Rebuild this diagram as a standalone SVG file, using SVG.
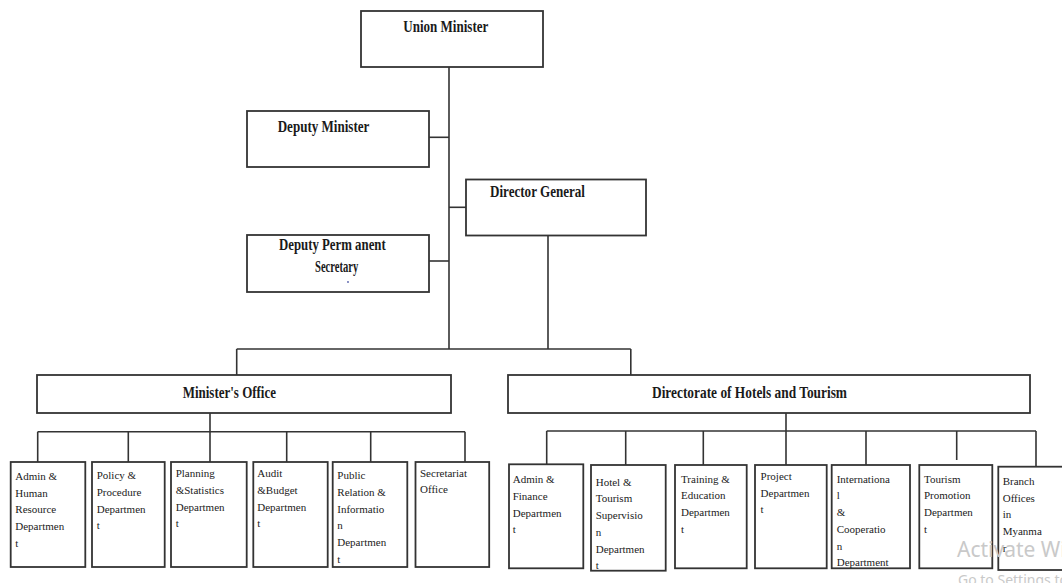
<svg xmlns="http://www.w3.org/2000/svg" width="1062" height="583" viewBox="0 0 1062 583">
  <style>
    .box { fill: #ffffff; stroke: #333333; stroke-width: 1.8; }
    .ln { fill: none; stroke: #333333; stroke-width: 1.6; }
    .ttl { font-family: "Liberation Serif", "Times New Roman", serif; font-weight: bold; font-size: 12.5px; fill: #1a1a1a; }
    .lbl { font-family: "Liberation Serif", "Times New Roman", serif; font-size: 11px; fill: #222222; }
    .wm1 { font-family: "Noto Sans", "Open Sans", sans-serif; font-size: 21px; fill: #c9c9c9; }
    .wm2 { font-family: "Noto Sans", "Open Sans", sans-serif; font-size: 14px; fill: #c9c9c9; }
  </style>
  <rect width="1062" height="583" fill="#ffffff"/>

  <!-- connectors -->
  <g id="connectors" class="ln">
    <path d="M449,67 V349"/>
    <path d="M429,137.3 H449"/>
    <path d="M449,207.3 H466"/>
    <path d="M429,261 H449"/>
    <path d="M548,235.5 V349"/>
    <path d="M236.7,349 H630.8"/>
    <path d="M236.7,349 V375"/>
    <path d="M630.8,349 V375"/>
    <!-- Minister's Office branches -->
    <path d="M210,413 V462"/>
    <path d="M37.7,431.7 H465"/>
    <path d="M37.7,431.7 V462"/>
    <path d="M128.3,431.7 V462"/>
    <path d="M286.7,431.7 V462"/>
    <path d="M370.7,431.7 V462"/>
    <path d="M465,431.7 V462"/>
    <!-- Directorate branches -->
    <path d="M786,413 V465"/>
    <path d="M546.7,431 H1036"/>
    <path d="M546.7,431 V464.3"/>
    <path d="M625.7,431 V465"/>
    <path d="M703.3,431 V465"/>
    <path d="M866,431 V465"/>
    <path d="M956.7,431 V460"/>
    <path d="M1036,431 V466.7"/>
  </g>

  <!-- upper hierarchy -->
  <g id="union-minister">
    <rect class="box" x="361" y="11" width="182" height="56"/>
    <text class="ttl" transform="translate(403.3,31.7) scale(1,1.4)" textLength="85" lengthAdjust="spacingAndGlyphs">Union  Minister</text>
  </g>
  <g id="deputy-minister">
    <rect class="box" x="247" y="111" width="182" height="56"/>
    <text class="ttl" transform="translate(277.7,131.7) scale(1,1.4)" textLength="91.6" lengthAdjust="spacingAndGlyphs">Deputy  Minister</text>
  </g>
  <g id="director-general">
    <rect class="box" x="466" y="179.5" width="180" height="56"/>
    <text class="ttl" transform="translate(490,196.7) scale(1,1.4)" textLength="95" lengthAdjust="spacingAndGlyphs">Director  General</text>
  </g>
  <g id="deputy-permanent-secretary">
    <rect class="box" x="247" y="235" width="182" height="57"/>
    <text class="ttl" transform="translate(279,250) scale(1,1.4)" textLength="106.7" lengthAdjust="spacingAndGlyphs">Deputy  Perm anent</text>
    <text class="ttl" transform="translate(315,271.7) scale(1,1.4)" textLength="43.3" lengthAdjust="spacingAndGlyphs">Secretary</text>
    <circle cx="348" cy="282" r="0.9" fill="#5560aa"/>
  </g>

  <!-- second level -->
  <g id="ministers-office">
    <rect class="box" x="37" y="375" width="414" height="38"/>
    <text class="ttl" transform="translate(182.7,398.3) scale(1,1.4)" textLength="93.3" lengthAdjust="spacingAndGlyphs">Minister's  Office</text>
  </g>
  <g id="directorate-hotels-tourism">
    <rect class="box" x="508" y="375" width="522" height="38"/>
    <text class="ttl" transform="translate(652,398.3) scale(1,1.4)" textLength="195" lengthAdjust="spacingAndGlyphs">Directorate  of  Hotels  and  Tourism</text>
  </g>

  <!-- Minister's Office departments -->
  <g id="admin-hr">
    <rect class="box" x="10.7" y="462" width="74.6" height="105"/>
    <text class="lbl" x="15.3" y="480"><tspan x="15.3">Admin &amp;</tspan><tspan x="15.3" dy="16.7">Human</tspan><tspan x="15.3" dy="16.7">Resource</tspan><tspan x="15.3" dy="16.7">Departmen</tspan><tspan x="15.3" dy="16.7">t</tspan></text>
  </g>
  <g id="policy-procedure">
    <rect class="box" x="92" y="462" width="72.7" height="105"/>
    <text class="lbl" x="96.7" y="479.3"><tspan x="96.7">Policy &amp;</tspan><tspan x="96.7" dy="16.7">Procedure</tspan><tspan x="96.7" dy="16.7">Departmen</tspan><tspan x="96.7" dy="16.7">t</tspan></text>
  </g>
  <g id="planning-statistics">
    <rect class="box" x="171" y="462" width="75.7" height="105"/>
    <text class="lbl" x="175.7" y="477.3"><tspan x="175.7">Planning</tspan><tspan x="175.7" dy="16.7">&amp;Statistics</tspan><tspan x="175.7" dy="16.7">Departmen</tspan><tspan x="175.7" dy="16.7">t</tspan></text>
  </g>
  <g id="audit-budget">
    <rect class="box" x="253.3" y="462" width="74.4" height="105"/>
    <text class="lbl" x="257.3" y="477.3"><tspan x="257.3">Audit</tspan><tspan x="257.3" dy="16.7">&amp;Budget</tspan><tspan x="257.3" dy="16.7">Departmen</tspan><tspan x="257.3" dy="16.7">t</tspan></text>
  </g>
  <g id="public-relation">
    <rect class="box" x="332.7" y="462" width="74.6" height="105"/>
    <text class="lbl" x="337.3" y="479.3"><tspan x="337.3">Public</tspan><tspan x="337.3" dy="16.7">Relation &amp;</tspan><tspan x="337.3" dy="16.7">Informatio</tspan><tspan x="337.3" dy="16.7">n</tspan><tspan x="337.3" dy="16.7">Departmen</tspan><tspan x="337.3" dy="16.7">t</tspan></text>
  </g>
  <g id="secretariat-office">
    <rect class="box" x="415.5" y="462" width="73.7" height="105"/>
    <text class="lbl" x="420" y="476.7"><tspan x="420">Secretariat</tspan><tspan x="420" dy="16.7">Office</tspan></text>
  </g>

  <!-- Directorate departments -->
  <g id="admin-finance">
    <rect class="box" x="509" y="464.3" width="74.3" height="104"/>
    <text class="lbl" x="512.7" y="483.3"><tspan x="512.7">Admin &amp;</tspan><tspan x="512.7" dy="16.7">Finance</tspan><tspan x="512.7" dy="16.7">Departmen</tspan><tspan x="512.7" dy="16.7">t</tspan></text>
  </g>
  <g id="hotel-tourism-supervision">
    <rect class="box" x="591" y="465" width="74.7" height="105.7"/>
    <text class="lbl" x="595.7" y="485.7"><tspan x="595.7">Hotel &amp;</tspan><tspan x="595.7" dy="16.7">Tourism</tspan><tspan x="595.7" dy="16.7">Supervisio</tspan><tspan x="595.7" dy="16.7">n</tspan><tspan x="595.7" dy="16.7">Departmen</tspan><tspan x="595.7" dy="16.7">t</tspan></text>
  </g>
  <g id="training-education">
    <rect class="box" x="675" y="465" width="71.7" height="103.3"/>
    <text class="lbl" x="681" y="482.7"><tspan x="681">Training &amp;</tspan><tspan x="681" dy="16.7">Education</tspan><tspan x="681" dy="16.7">Departmen</tspan><tspan x="681" dy="16.7">t</tspan></text>
  </g>
  <g id="project">
    <rect class="box" x="755" y="465" width="71.7" height="103.3"/>
    <text class="lbl" x="760.6" y="480"><tspan x="760.6">Project</tspan><tspan x="760.6" dy="16.7">Departmen</tspan><tspan x="760.6" dy="16.7">t</tspan></text>
  </g>
  <g id="international-cooperation">
    <rect class="box" x="831.7" y="465" width="78.3" height="103.3"/>
    <text class="lbl" x="836.7" y="482.7"><tspan x="836.7">Internationa</tspan><tspan x="836.7" dy="16.7">l</tspan><tspan x="836.7" dy="16.7">&amp;</tspan><tspan x="836.7" dy="16.7">Cooperatio</tspan><tspan x="836.7" dy="16.7">n</tspan><tspan x="836.7" dy="16.7">Department</tspan></text>
  </g>
  <g id="tourism-promotion">
    <rect class="box" x="919.3" y="465" width="73" height="103.3"/>
    <text class="lbl" x="924" y="482.7"><tspan x="924">Tourism</tspan><tspan x="924" dy="16.7">Promotion</tspan><tspan x="924" dy="16.7">Departmen</tspan><tspan x="924" dy="16.7">t</tspan></text>
  </g>
  <g id="branch-offices">
    <rect class="box" x="998.3" y="466.7" width="72" height="103.3"/>
    <text class="lbl" x="1002.7" y="485"><tspan x="1002.7">Branch</tspan><tspan x="1002.7" dy="16.7">Offices</tspan><tspan x="1002.7" dy="16.7">in</tspan><tspan x="1002.7" dy="16.7">Myanma</tspan><tspan x="1002.7" dy="16.7">r</tspan></text>
  </g>

  <!-- overlay text in the lower right corner -->
  <text class="wm1" x="957" y="557">Activate Windows</text>
  <text class="wm2" x="958" y="585">Go to Settings to activate Windows.</text>
</svg>
